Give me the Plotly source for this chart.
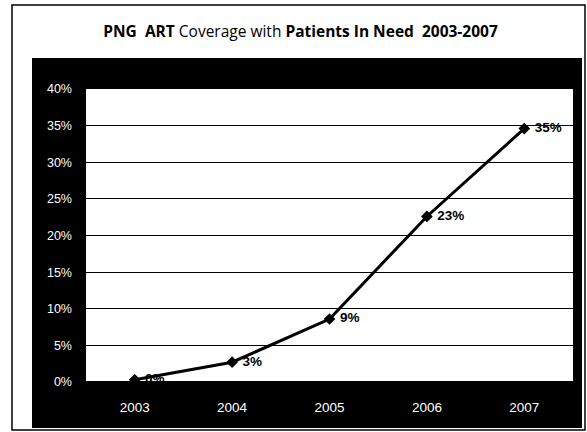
import plotly.graph_objects as go

years = ["2003", "2004", "2005", "2006", "2007"]
coverage = [0.3, 2.7, 8.6, 22.6, 34.6]
labels = ["0%", "3%", "9%", "23%", "35%"]
y_ticks = [0, 5, 10, 15, 20, 25, 30, 35, 40]
y_tick_text = ["0%", "5%", "10%", "15%", "20%", "25%", "30%", "35%", "40%"]
title = "<b>PNG  ART</b> Coverage with <b>Patients In Need  2003-2007</b>"

W, H = 587, 432
L, R, T, B = 86, 14, 89, 50
PW, PH = W - L - R, H - T - B

fig = go.Figure()
fig.add_trace(go.Scatter(
    x=years, y=coverage, mode="lines+markers+text",
    text=labels, textposition="middle right",
    textfont=dict(family="Liberation Sans, Arial", size=13.5, color="black"),
    texttemplate=" <b>%{text}</b>",
    line=dict(color="black", width=3),
    marker=dict(symbol="diamond", size=9, color="black"),
    cliponaxis=False, showlegend=False,
))

def bx(x):
    return (x - L) / PW

def by(y):
    return (H - B - y) / PH

shapes = [
    dict(type="rect", xref="paper", yref="paper",
         x0=bx(12), x1=bx(585), y0=by(430), y1=by(5),
         line=dict(color="black", width=1.5), fillcolor="white", layer="below"),
    dict(type="rect", xref="paper", yref="paper",
         x0=bx(32), x1=bx(582), y0=by(428), y1=by(58),
         line=dict(width=0), fillcolor="black", layer="below"),
    dict(type="rect", xref="paper", yref="paper",
         x0=0, x1=1, y0=0, y1=1,
         line=dict(width=0), fillcolor="white", layer="below"),
]

fig.update_layout(
    width=W, height=H,
    margin=dict(l=L, r=R, t=T, b=B, autoexpand=False),
    paper_bgcolor="white", plot_bgcolor="rgba(0,0,0,0)",
    shapes=shapes,
    title=dict(text=title, x=0.512, xanchor="center", y=1 - 32 / H, yanchor="middle",
               font=dict(family="Open Sans, Liberation Sans", size=15.5, color="black")),
    xaxis=dict(type="category", range=[-0.5, 4.5], showgrid=False, showline=False,
               ticks="", automargin=False,
               tickfont=dict(family="Liberation Sans, Arial", size=13.5, color="white"),
               ticklabelstandoff=15),
    yaxis=dict(range=[0, 40], tickmode="array", tickvals=y_ticks, ticktext=y_tick_text,
               automargin=False,
               showgrid=True, gridcolor="black", gridwidth=1,
               zeroline=True, zerolinecolor="black", zerolinewidth=1.5,
               showline=False, ticks="",
               tickfont=dict(family="Liberation Sans, Arial", size=12.5, color="white"),
               ticklabelstandoff=13),
)

fig.write_html("out.html", config={"displayModeBar": False},
               post_script="document.body.style.margin='0';")
